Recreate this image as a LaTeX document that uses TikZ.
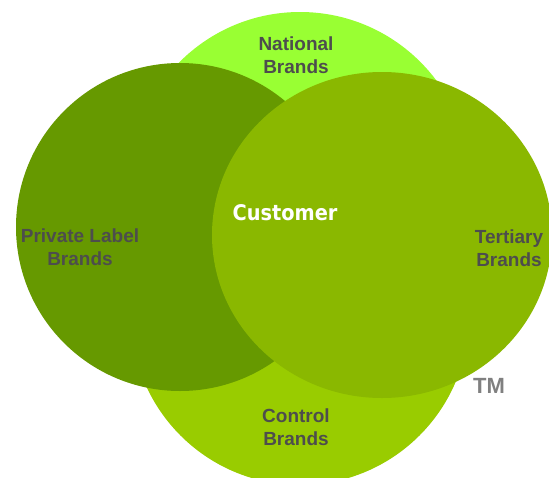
\documentclass[tikz,border=0pt]{standalone}
\usepackage{fontspec}
\newfontfamily\labelfont{Liberation Sans}
\newfontfamily\custfont[FakeStretch=0.9]{DejaVu Sans}
\definecolor{nationalgreen}{HTML}{99FF33}
\definecolor{controlgreen}{HTML}{99CC00}
\definecolor{privategreen}{HTML}{669900}
\definecolor{tertiarygreen}{HTML}{8AB800}
\definecolor{labelgray}{HTML}{4D4D4D}
\definecolor{markgray}{HTML}{808080}
\tikzstyle{brand} = [font=\labelfont\bfseries\fontsize{19}{22.5}\selectfont,
    text=labelgray, align=center, anchor=base, inner sep=0pt]
\tikzstyle{centre} = [font=\custfont\bfseries\fontsize{21.5}{24}\selectfont,
    text=white, anchor=base, inner sep=0pt]
\tikzstyle{trademark} = [font=\labelfont\bfseries\fontsize{22}{24}\selectfont,
    text=markgray, anchor=base, inner sep=0pt]

\begin{document}
\begin{tikzpicture}[x=1pt, y=-1pt]
    \useasboundingbox (0,0) rectangle (549,477);

    % Circles
    \fill [nationalgreen] (300,182) circle [radius=170pt];
    \fill [controlgreen] (300,316) circle [radius=169pt];
    \fill [privategreen] (180,227) circle [radius=164pt];
    \fill [tertiarygreen] (382,235) circle [x radius=170pt, y radius=163pt];

    % Labels
    \node [brand] (national) at (296,73) {National\\Brands};
    \node [brand] (private) at (80,265) {Private Label\\Brands};
    \node [brand] (tertiary) at (509,266) {Tertiary\\Brands};
    \node [brand] (control) at (296,445) {Control\\Brands};
    \node [centre] (customer) at (285,220) {Customer};
    \node [trademark] (tm) at (489,393) {TM};
\end{tikzpicture}
\end{document}
